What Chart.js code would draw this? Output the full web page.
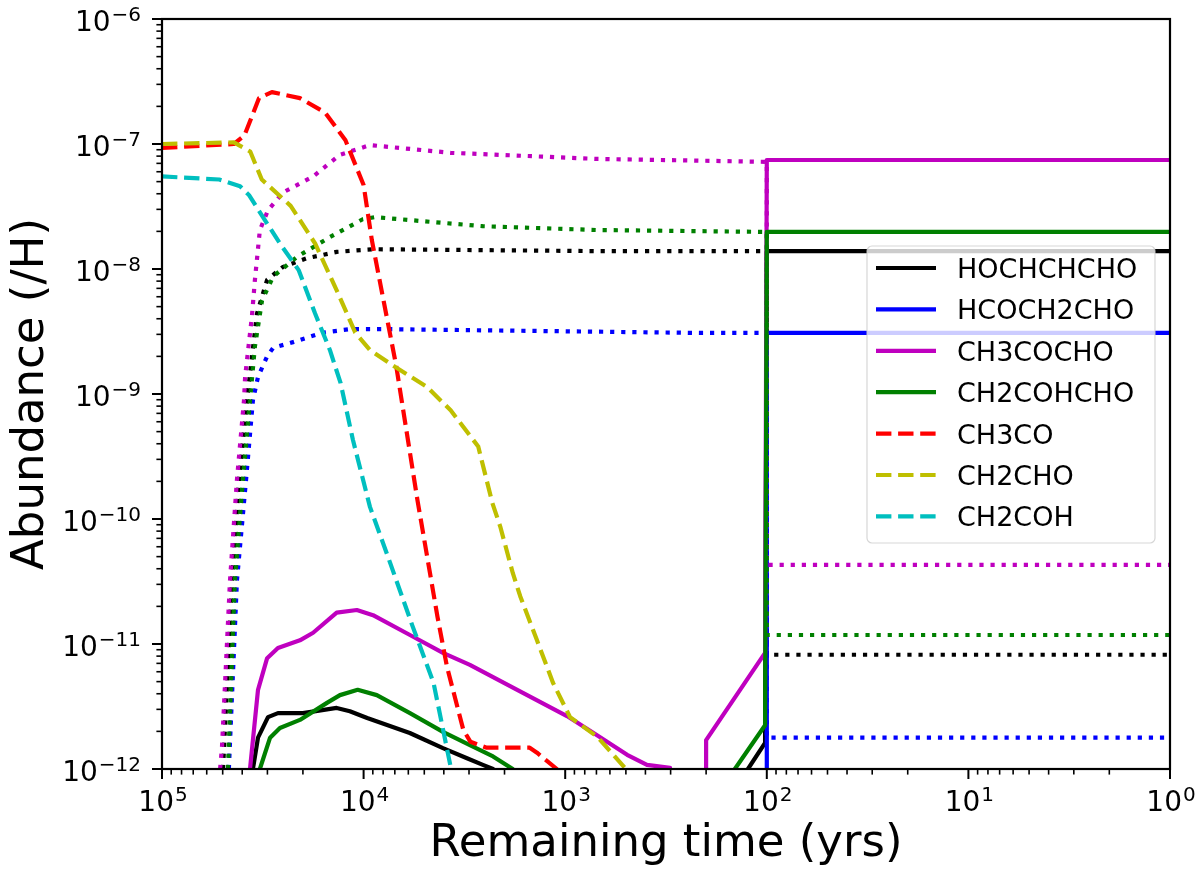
<!DOCTYPE html>
<html>
<head>
<meta charset="utf-8">
<title>Abundance vs remaining time</title>
<script src="https://cdn.jsdelivr.net/npm/chart.js@4.4.0/dist/chart.umd.min.js"></script>
<style>
  html, body { margin: 0; padding: 0; background: #fff; }
  canvas { display: block; }
</style>
</head>
<body>
<canvas id="abundance-chart" width="1200" height="877"></canvas>
<script>
// Each series is a list of [remaining time (yr), abundance (/H)] pairs.
// Values of 1e-13 sit below the axis floor and only mark where a curve leaves the plot.

// gas phase (solid)
const hochchchoGas = [
    [3.54e4, 1.0e-12], [3.34e4, 1.78e-12], [2.98e4, 2.6e-12], [2.66e4, 2.8e-12], [2.0e4, 2.8e-12],
    [1.36e4, 3.08e-12], [1.17e4, 2.9e-12], [9.6e3, 2.56e-12], [5.9e3, 1.94e-12], [4.04e3, 1.47e-12],
    [3.07e3, 1.22e-12], [2.56e3, 1.08e-12], [2.28e3, 1.0e-12], [2.2e3, 1e-13], [124, 1e-13],
    [124, 1.0e-12], [102, 1.62e-12], [100, 1.39e-8], [1, 1.39e-8]
];
const hcoch2choGas = [[100, 1e-13], [100, 3.08e-9], [1, 3.08e-9]];
const ch3cochoGas = [
    [3.66e4, 1.0e-12], [3.34e4, 4.3e-12], [3.01e4, 7.7e-12], [2.66e4, 9.3e-12], [2.07e4, 1.07e-11],
    [1.78e4, 1.23e-11], [1.36e4, 1.78e-11], [1.08e4, 1.87e-11], [8.98e3, 1.7e-11], [5.89e3, 1.18e-11],
    [4.04e3, 8.5e-12], [2.97e3, 6.8e-12], [1.73e3, 4.3e-12], [980, 2.65e-12], [695, 1.86e-12],
    [493, 1.3e-12], [393, 1.08e-12], [302, 1.02e-12], [290, 1e-13], [200, 1e-13],
    [200, 1.7e-12], [102, 8.5e-12], [100, 7.45e-8], [1, 7.45e-8]
];
const ch2cohchoGas = [
    [3.27e4, 1.0e-12], [2.91e4, 1.78e-12], [2.6e4, 2.13e-12], [2.07e4, 2.47e-12], [1.52e4, 3.38e-12],
    [1.31e4, 3.9e-12], [1.07e4, 4.3e-12], [8.6e3, 3.9e-12], [5.89e3, 2.8e-12], [4.04e3, 1.98e-12],
    [2.97e3, 1.55e-12], [2.28e3, 1.26e-12], [1.82e3, 1.0e-12], [1.75e3, 1e-13], [144, 1e-13],
    [144, 1.0e-12], [102, 2.24e-12], [100, 1.98e-8], [1, 1.98e-8]
];

// ice (dotted, not in legend)
const hochchchoIce = [
    [4.98e4, 1.0e-12], [4.5e4, 3.2e-11], [4.15e4, 2.05e-10], [3.79e4, 8.9e-10], [3.38e4, 4.4e-9],
    [3.01e4, 8.2e-9], [2.51e4, 1.04e-8], [1.91e4, 1.22e-8], [1.36e4, 1.37e-8], [8.98e3, 1.44e-8],
    [695, 1.39e-8], [100, 1.39e-8], [100, 8.2e-12], [1, 8.2e-12]
];
const hcoch2choIce = [
    [4.66e4, 1.0e-12], [4.25e4, 3.2e-11], [3.83e4, 2.05e-10], [3.54e4, 8.9e-10], [3.34e4, 1.37e-9],
    [3.01e4, 2.0e-9], [2.81e4, 2.34e-9], [2.24e4, 2.6e-9], [1.59e4, 3.1e-9], [1.17e4, 3.3e-9],
    [7.4e3, 3.3e-9], [214, 3.08e-9], [100, 3.08e-9], [100, 1.78e-12], [1, 1.78e-12]
];
const ch3cochoIce = [
    [5.15e4, 1.0e-12], [5.04e4, 1.5e-12], [4.6e4, 3.2e-11], [4.25e4, 2.05e-10], [3.92e4, 8.9e-10],
    [3.87e4, 1.37e-9], [3.58e4, 4.2e-9], [3.46e4, 8.2e-9], [3.27e4, 2.05e-8], [2.98e4, 2.95e-8],
    [2.51e4, 4.1e-8], [1.78e4, 5.5e-8], [1.31e4, 8.2e-8], [9.3e3, 9.8e-8], [3.7e3, 8.5e-8],
    [695, 7.6e-8], [100, 7.2e-8], [100, 4.3e-11], [1, 4.3e-11]
];
const ch2cohchoIce = [
    [4.71e4, 1.0e-12], [4.35e4, 3.2e-11], [3.97e4, 2.05e-10], [3.66e4, 8.9e-10], [3.46e4, 2.4e-9],
    [3.19e4, 5.6e-9], [2.81e4, 8.7e-9], [2.14e4, 1.25e-8], [1.47e4, 1.8e-8], [1.01e4, 2.5e-8],
    [8.8e3, 2.6e-8], [2.57e3, 2.2e-8], [695, 2.05e-8], [100, 1.98e-8], [100, 1.18e-11], [1, 1.18e-11]
];

// radicals (dashed)
const ch3coRad = [
    [1e5, 9.3e-8], [4.4e4, 1.0e-7], [3.9e4, 1.17e-7], [3.3e4, 2.33e-7], [2.85e4, 2.6e-7],
    [2.07e4, 2.33e-7], [1.55e4, 1.78e-7], [1.23e4, 1.07e-7], [1.0e4, 4.7e-8], [9.1e3, 1.7e-8],
    [6.9e3, 1.7e-9], [5.4e3, 1.4e-10], [4.3e3, 1.65e-11], [3.86e3, 6.6e-12], [3.2e3, 2.05e-12],
    [2.95e3, 1.65e-12], [2.45e3, 1.48e-12], [1.5e3, 1.48e-12], [1.38e3, 1.35e-12], [1.1e3, 1.0e-12],
    [1.0e3, 1e-13]
];
const ch2choRad = [
    [1e5, 1.0e-7], [4.4e4, 1.03e-7], [3.65e4, 8.7e-8], [3.2e4, 5.2e-8], [2.3e4, 3.2e-8],
    [1.74e4, 1.6e-8], [1.34e4, 6.4e-9], [1.1e4, 3.1e-9], [9.3e3, 2.25e-9], [7.2e3, 1.7e-9],
    [4.85e3, 1.14e-9], [3.7e3, 7.4e-10], [2.7e3, 3.8e-10], [2.3e3, 1.35e-10], [2.1e3, 8.7e-11],
    [1.82e3, 3.7e-11], [1.67e3, 2.4e-11], [1.38e3, 1.07e-11], [1.15e3, 4.9e-12], [946, 2.6e-12],
    [690, 1.8e-12], [500, 1.0e-12], [450, 1e-13]
];
const ch2cohRad = [
    [1e5, 5.5e-8], [5.2e4, 5.2e-8], [4.1e4, 4.6e-8], [3.7e4, 3.9e-8], [3.25e4, 2.8e-8],
    [2.6e4, 1.6e-8], [2.1e4, 9.8e-9], [1.74e4, 4.4e-9], [1.47e4, 2.25e-9], [1.3e4, 1.22e-9],
    [1.13e4, 4.3e-10], [9.3e3, 1.25e-10], [7.4e3, 4.5e-11], [5.7e3, 1.37e-11], [4.5e3, 4.9e-12],
    [3.7e3, 1.04e-12], [3.6e3, 1e-13]
];

// tick labels: powers of ten
const xTickExps = [5, 4, 3, 2, 1, 0];
const yTickExps = [-6, -7, -8, -9, -10, -11, -12];

const LW = 4.2;
const DASHED = [15.4, 6.7];
const DOTTED = [4.2, 6.9];

// matplotlib draw order: later series on top
const seriesList = [
    { label: 'HOCHCHCHO', data: hochchchoGas, color: '#000000', dash: [], legend: true },
    { label: 'HOCHCHCHO (ice)', data: hochchchoIce, color: '#000000', dash: DOTTED },
    { label: 'HCOCH2CHO', data: hcoch2choGas, color: '#0000ff', dash: [], legend: true },
    { label: 'HCOCH2CHO (ice)', data: hcoch2choIce, color: '#0000ff', dash: DOTTED },
    { label: 'CH3COCHO', data: ch3cochoGas, color: '#bf00bf', dash: [], legend: true },
    { label: 'CH3COCHO (ice)', data: ch3cochoIce, color: '#bf00bf', dash: DOTTED },
    { label: 'CH2COHCHO', data: ch2cohchoGas, color: '#008000', dash: [], legend: true },
    { label: 'CH2COHCHO (ice)', data: ch2cohchoIce, color: '#008000', dash: DOTTED },
    { label: 'CH3CO', data: ch3coRad, color: '#ff0000', dash: DASHED, legend: true },
    { label: 'CH2CHO', data: ch2choRad, color: '#bfbf00', dash: DASHED, legend: true },
    { label: 'CH2COH', data: ch2cohRad, color: '#00bfbf', dash: DASHED, legend: true }
];

const datasets = seriesList.map((s, i) => ({
    label: s.label,
    data: s.data.map(([x, y]) => ({ x, y })),
    borderColor: s.color,
    backgroundColor: s.color,
    borderWidth: LW,
    borderDash: s.dash,
    borderCapStyle: s.dash.length ? 'butt' : 'round',
    borderJoinStyle: 'round',
    pointRadius: 0,
    fill: false,
    tension: 0,
    clip: 0,
    order: seriesList.length - i
}));

const FONT = '"DejaVu Sans", "Liberation Sans", sans-serif';

const powerLabel = (ctx, exp, x, base, align) => {
    ctx.font = `28px ${FONT}`;
    const w1 = ctx.measureText('10').width;
    const expStr = exp < 0 ? '\u2212' + (-exp) : String(exp);
    ctx.font = `20px ${FONT}`;
    const w2 = ctx.measureText(expStr).width;
    const gap = 1;
    const total = w1 + gap + w2;
    const left = align === 'right' ? x - total : x - total / 2;
    ctx.textAlign = 'left';
    ctx.textBaseline = 'alphabetic';
    ctx.font = `28px ${FONT}`;
    ctx.fillText('10', left, base);
    ctx.font = `20px ${FONT}`;
    ctx.fillText(expStr, left + w1 + gap, base - 10.5);
};

// frame, ticks, labels and legend drawn on top of the lines
const axesDecor = {
    id: 'axesDecor',
    afterDraw(chart) {
        const { ctx, chartArea: a } = chart;
        const xs = chart.scales.x;
        const ys = chart.scales.y;
        ctx.save();
        ctx.strokeStyle = '#000';
        ctx.fillStyle = '#000';

        const tick = (x1, y1, x2, y2, w) => {
            ctx.lineWidth = w;
            ctx.beginPath();
            ctx.moveTo(x1, y1);
            ctx.lineTo(x2, y2);
            ctx.stroke();
        };

        // x ticks
        xTickExps.forEach(e => {
            const px = xs.getPixelForValue(Math.pow(10, e));
            tick(px, a.bottom, px, a.bottom + 10, 2);
            if (e < 5) {
                for (let m = 2; m <= 9; m++) {
                    const mp = xs.getPixelForValue(m * Math.pow(10, e));
                    tick(mp, a.bottom, mp, a.bottom + 5.6, 1.6);
                }
            }
            powerLabel(ctx, e, px + 1, a.bottom + 42, 'center');
        });

        // y ticks
        yTickExps.forEach(e => {
            const py = ys.getPixelForValue(Math.pow(10, e));
            tick(a.left, py, a.left - 10, py, 2);
            if (e < -6) {
                for (let m = 2; m <= 9; m++) {
                    const mp = ys.getPixelForValue(m * Math.pow(10, e));
                    tick(a.left, mp, a.left - 5.6, mp, 1.6);
                }
            }
            powerLabel(ctx, e, a.left - 21, py + 12, 'right');
        });

        // frame
        ctx.lineWidth = 2.2;
        ctx.strokeRect(a.left, a.top, a.right - a.left, a.bottom - a.top);

        // axis titles
        ctx.font = `45px ${FONT}`;
        ctx.textAlign = 'center';
        ctx.textBaseline = 'alphabetic';
        ctx.fillText('Remaining time (yrs)', (a.left + a.right) / 2, 856);
        ctx.save();
        ctx.translate(43, (a.top + a.bottom) / 2);
        ctx.rotate(-Math.PI / 2);
        ctx.fillText('Abundance (/H)', 0, 0);
        ctx.restore();

        // legend
        const entries = seriesList.filter(s => s.legend);
        const box = { left: a.right - 303, top: 246, width: 288, height: 297 };
        ctx.beginPath();
        ctx.roundRect(box.left, box.top, box.width, box.height, 5);
        ctx.fillStyle = 'rgba(255,255,255,0.8)';
        ctx.fill();
        ctx.lineWidth = 1.2;
        ctx.strokeStyle = 'rgba(204,204,204,0.8)';
        ctx.stroke();

        ctx.font = `27px ${FONT}`;
        ctx.textAlign = 'left';
        entries.forEach((s, i) => {
            const cy = box.top + 22 + i * 41.4;
            ctx.strokeStyle = s.color;
            ctx.lineWidth = LW;
            ctx.setLineDash(s.dash);
            ctx.lineCap = 'butt';
            ctx.beginPath();
            ctx.moveTo(box.left + 9, cy);
            ctx.lineTo(box.left + 69, cy);
            ctx.stroke();
            ctx.setLineDash([]);
            ctx.fillStyle = '#000';
            ctx.fillText(s.label, box.left + 90, cy + 10);
        });

        ctx.restore();
    }
};

const canvas = document.getElementById('abundance-chart');
new Chart(canvas, {
    type: 'line',
    data: { datasets: datasets },
    options: {
        responsive: false,
        animation: false,
        devicePixelRatio: 1,
        layout: { padding: { left: 162, right: 30, top: 19, bottom: 108 } },
        scales: {
            x: { type: 'logarithmic', reverse: true, min: 1, max: 1e5, display: false },
            y: { type: 'logarithmic', min: 1e-12, max: 1e-6, display: false }
        },
        plugins: {
            legend: { display: false },
            tooltip: { enabled: false }
        }
    },
    plugins: [axesDecor]
});
</script>
</body>
</html>
